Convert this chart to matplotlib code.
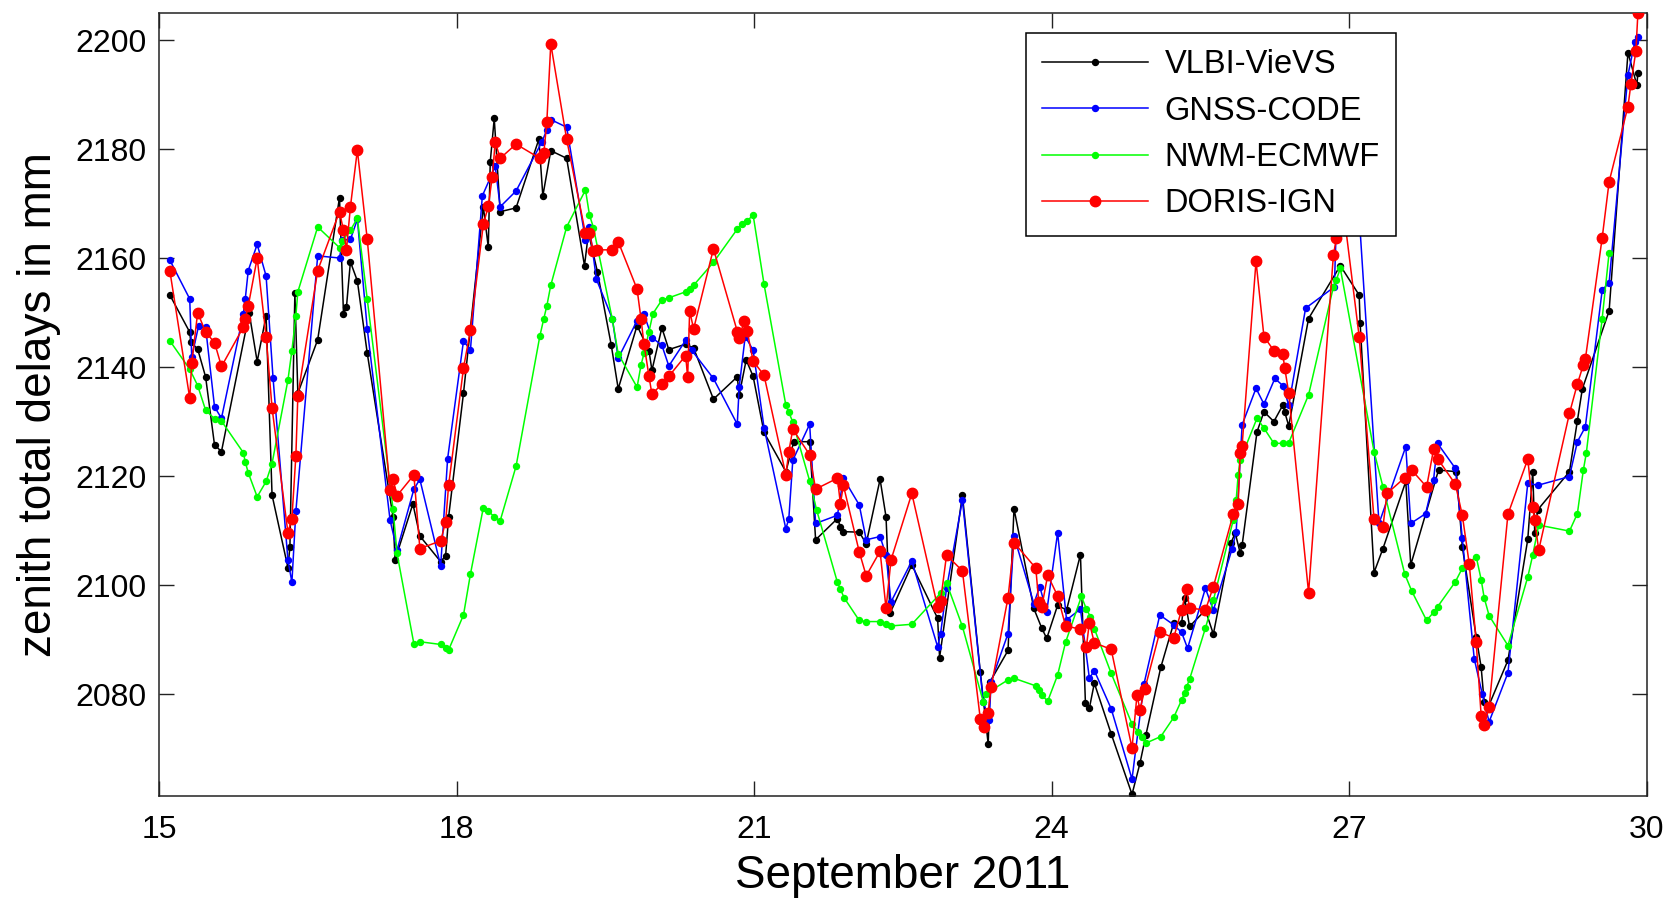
import matplotlib
matplotlib.use("Agg")
import matplotlib.pyplot as plt

plt.rcParams['font.family'] = ['Liberation Sans', 'DejaVu Sans']

# ---------------- data (day of September 2011, ZTD in mm) ----------------
vlbi_t = [15.11, 15.31, 15.32, 15.39, 15.47, 15.56, 15.63, 15.91, 15.99, 16.08,
          16.14, 16.30, 16.32, 16.37, 16.40, 16.60, 16.82, 16.86, 16.89, 16.93,
          17.00, 17.10, 17.36, 17.38, 17.56, 17.63, 17.84, 17.89, 17.92, 18.07,
          18.27, 18.32, 18.34, 18.38, 18.44, 18.60, 18.83, 18.87, 18.95, 19.11,
          19.29, 19.33, 19.42, 19.56, 19.63, 19.82, 19.94, 19.97, 20.07, 20.14,
          20.31, 20.39, 20.59, 20.83, 20.85, 20.92, 20.99, 21.10, 21.32, 21.40,
          21.56, 21.62, 21.84, 21.87, 21.90, 22.06, 22.13, 22.27, 22.33, 22.37,
          22.59, 22.85, 22.87, 23.10, 23.28, 23.36, 23.38, 23.56, 23.62, 23.82,
          23.90, 23.95, 24.06, 24.15, 24.29, 24.34, 24.38, 24.43, 24.60, 24.81,
          24.89, 24.95, 25.10, 25.23, 25.31, 25.34, 25.39, 25.55, 25.63, 25.81,
          25.85, 25.90, 25.92, 26.07, 26.14, 26.24, 26.33, 26.35, 26.39, 26.59,
          26.91, 27.10, 27.11, 27.25, 27.34, 27.57, 27.62, 27.90, 28.08, 28.14,
          28.28, 28.33, 28.36, 28.41, 28.60, 28.80, 28.85, 28.87, 28.90, 29.22,
          29.30, 29.35, 29.62, 29.81, 29.90, 29.91]
vlbi_v = [2153.2, 2146.4, 2144.6, 2143.3, 2138.2, 2125.7, 2124.5, 2149.9, 2141.0, 2149.4,
          2116.5, 2103.2, 2107.0, 2153.5, 2135.2, 2145.0, 2171.1, 2149.8, 2151.0, 2159.3,
          2155.8, 2142.5, 2112.5, 2104.6, 2114.9, 2109.0, 2104.3, 2105.4, 2112.5, 2135.2,
          2169.4, 2162.0, 2177.7, 2185.6, 2168.5, 2169.2, 2181.8, 2171.4, 2179.7, 2178.3,
          2158.6, 2164.6, 2157.5, 2144.0, 2136.0, 2147.6, 2143.0, 2139.4, 2147.2, 2143.2,
          2144.2, 2143.5, 2134.1, 2138.2, 2134.9, 2141.3, 2138.3, 2128.0, 2120.8, 2126.3,
          2126.3, 2108.3, 2112.2, 2110.7, 2109.8, 2109.7, 2107.6, 2119.4, 2112.5, 2094.8,
          2103.7, 2093.9, 2086.7, 2116.5, 2084.1, 2070.8, 2082.3, 2088.0, 2114.0, 2095.7,
          2092.1, 2090.2, 2096.3, 2095.4, 2105.6, 2078.4, 2077.4, 2082.0, 2072.7, 2061.6,
          2067.3, 2072.5, 2084.9, 2093.0, 2093.0, 2097.7, 2092.4, 2095.4, 2091.0, 2107.8,
          2109.6, 2105.9, 2107.3, 2128.1, 2131.8, 2130.0, 2133.0, 2131.7, 2129.2, 2148.9,
          2158.6, 2153.2, 2148.0, 2102.3, 2106.7, 2119.0, 2103.7, 2121.1, 2120.8, 2107.0,
          2090.5, 2084.9, 2078.6, 2078.0, 2086.2, 2108.4, 2120.8, 2109.6, 2113.8, 2120.8,
          2130.1, 2136.0, 2150.3, 2197.7, 2191.7, 2194.0]

gnss_t = [15.11, 15.31, 15.33, 15.40, 15.47, 15.56, 15.63, 15.85, 15.87, 15.90,
          15.99, 16.08, 16.15, 16.30, 16.34, 16.38, 16.60, 16.82, 16.85, 16.93,
          17.00, 17.10, 17.33, 17.40, 17.57, 17.63, 17.84, 17.91, 18.07, 18.14,
          18.26, 18.39, 18.44, 18.60, 18.86, 18.91, 18.95, 19.11, 19.30, 19.34,
          19.41, 19.57, 19.63, 19.82, 19.89, 19.97, 20.07, 20.14, 20.31, 20.37,
          20.59, 20.83, 20.85, 20.91, 20.99, 21.10, 21.32, 21.35, 21.39, 21.56,
          21.62, 21.84, 21.90, 22.06, 22.13, 22.27, 22.33, 22.38, 22.59, 22.85,
          22.88, 22.94, 23.10, 23.31, 23.37, 23.39, 23.56, 23.62, 23.82, 23.88,
          23.95, 24.06, 24.15, 24.29, 24.38, 24.43, 24.60, 24.81, 24.93, 25.09,
          25.23, 25.31, 25.37, 25.55, 25.63, 25.82, 25.86, 25.92, 26.06, 26.14,
          26.25, 26.33, 26.39, 26.56, 26.85, 26.88, 27.11, 27.30, 27.57, 27.62,
          27.77, 27.85, 27.89, 28.07, 28.14, 28.26, 28.34, 28.41, 28.60, 28.80,
          28.90, 29.22, 29.30, 29.38, 29.55, 29.62, 29.81, 29.88, 29.91]
gnss_v = [2159.6, 2152.5, 2141.8, 2147.6, 2147.3, 2132.7, 2130.6, 2149.7, 2152.5, 2157.7,
          2162.5, 2156.7, 2138.0, 2104.6, 2100.5, 2113.5, 2160.4, 2160.0, 2163.3, 2163.4,
          2167.1, 2147.0, 2111.9, 2106.4, 2117.6, 2119.4, 2103.5, 2123.2, 2144.8, 2143.1,
          2171.4, 2176.8, 2169.4, 2172.3, 2181.3, 2183.5, 2185.4, 2184.0, 2163.3, 2165.7,
          2156.1, 2148.9, 2141.6, 2148.5, 2149.7, 2145.4, 2144.0, 2140.2, 2144.9, 2143.1,
          2137.9, 2129.5, 2136.4, 2145.6, 2143.1, 2128.9, 2110.3, 2112.2, 2122.9, 2129.5,
          2111.3, 2112.8, 2119.6, 2114.7, 2108.3, 2108.9, 2105.5, 2096.9, 2104.4, 2088.7,
          2091.1, 2099.4, 2115.6, 2078.6, 2075.3, 2082.3, 2091.1, 2109.0, 2096.6, 2099.7,
          2095.1, 2109.6, 2093.6, 2095.6, 2082.9, 2084.3, 2077.3, 2064.4, 2081.8, 2094.5,
          2092.7, 2091.3, 2088.4, 2099.4, 2095.4, 2106.7, 2109.8, 2129.4, 2136.1, 2133.2,
          2137.9, 2136.6, 2133.0, 2150.8, 2154.7, 2172.0, 2165.0, 2111.3, 2125.4, 2111.3,
          2113.1, 2119.3, 2126.0, 2121.4, 2108.6, 2086.5, 2080.1, 2074.9, 2083.9, 2118.7,
          2118.3, 2119.9, 2126.3, 2129.0, 2154.1, 2155.5, 2193.6, 2199.7, 2200.6]

nwm_t = [15.11, 15.31, 15.39, 15.47, 15.56, 15.63, 15.85, 15.87, 15.90, 15.99,
         16.08, 16.14, 16.30, 16.34, 16.38, 16.40, 16.60, 16.82, 16.85, 16.93,
         17.00, 17.10, 17.36, 17.40, 17.57, 17.63, 17.84, 17.89, 17.92, 18.07,
         18.14, 18.27, 18.32, 18.38, 18.44, 18.60, 18.84, 18.88, 18.91, 18.95,
         19.11, 19.30, 19.34, 19.38, 19.57, 19.63, 19.82, 19.86, 19.89, 19.94,
         19.98, 20.07, 20.14, 20.31, 20.35, 20.39, 20.59, 20.83, 20.88, 20.93,
         20.99, 21.10, 21.32, 21.35, 21.39, 21.56, 21.63, 21.84, 21.87, 21.91,
         22.06, 22.13, 22.27, 22.33, 22.38, 22.59, 22.88, 22.94, 23.10, 23.31,
         23.34, 23.56, 23.62, 23.84, 23.87, 23.90, 23.96, 24.06, 24.14, 24.30,
         24.35, 24.39, 24.43, 24.60, 24.81, 24.87, 24.91, 24.95, 25.10, 25.23,
         25.31, 25.34, 25.36, 25.39, 25.55, 25.63, 25.83, 25.86, 25.88, 25.90,
         26.07, 26.14, 26.24, 26.33, 26.39, 26.59, 26.84, 26.87, 26.91, 27.25,
         27.34, 27.56, 27.63, 27.78, 27.85, 27.89, 28.07, 28.14, 28.28, 28.33,
         28.36, 28.41, 28.60, 28.80, 28.85, 28.91, 29.22, 29.30, 29.36, 29.39,
         29.55, 29.62]
nwm_v = [2144.8, 2139.6, 2136.6, 2132.1, 2130.5, 2130.1, 2124.3, 2122.6, 2120.6, 2116.2,
         2119.0, 2122.3, 2137.6, 2143.0, 2149.4, 2153.8, 2165.7, 2161.9, 2163.2, 2165.1,
         2167.3, 2152.4, 2113.9, 2105.8, 2089.2, 2089.6, 2089.1, 2088.4, 2088.1, 2094.5,
         2102.0, 2114.2, 2113.6, 2112.5, 2111.8, 2121.8, 2145.7, 2148.9, 2151.2, 2155.0,
         2165.7, 2172.5, 2167.9, 2165.6, 2148.8, 2142.4, 2136.3, 2140.4, 2142.5, 2146.5,
         2149.8, 2152.3, 2152.7, 2153.8, 2154.3, 2155.0, 2159.2, 2165.3, 2166.2, 2166.8,
         2167.9, 2155.2, 2133.0, 2131.7, 2129.9, 2119.1, 2113.8, 2100.5, 2099.2, 2097.6,
         2093.5, 2093.3, 2093.3, 2092.8, 2092.5, 2092.8, 2098.5, 2100.4, 2092.4, 2078.6,
         2080.1, 2082.6, 2082.9, 2081.5, 2080.8, 2079.8, 2078.7, 2083.5, 2089.5, 2097.9,
         2095.6, 2094.2, 2092.0, 2083.8, 2074.5, 2073.1, 2072.2, 2071.0, 2072.2, 2075.7,
         2078.9, 2080.2, 2081.3, 2082.7, 2092.1, 2097.2, 2111.9, 2115.6, 2120.2, 2122.9,
         2130.6, 2128.8, 2126.0, 2126.0, 2126.1, 2134.9, 2154.7, 2156.0, 2158.1, 2124.5,
         2118.0, 2102.0, 2098.9, 2093.5, 2095.0, 2096.0, 2100.6, 2103.1, 2105.2, 2101.0,
         2097.7, 2094.4, 2088.9, 2101.5, 2105.5, 2111.0, 2109.9, 2113.1, 2121.1, 2124.2,
         2148.9, 2161.0]

doris_t = [15.11, 15.31, 15.33, 15.39, 15.47, 15.56, 15.63, 15.85, 15.87, 15.90,
           15.99, 16.08, 16.14, 16.30, 16.34, 16.38, 16.40, 16.60, 16.82, 16.86,
           16.89, 16.93, 17.00, 17.10, 17.33, 17.36, 17.40, 17.57, 17.63, 17.84,
           17.89, 17.92, 18.07, 18.14, 18.27, 18.32, 18.36, 18.39, 18.44, 18.60,
           18.84, 18.88, 18.91, 18.95, 19.11, 19.30, 19.34, 19.38, 19.42, 19.57,
           19.63, 19.82, 19.86, 19.89, 19.94, 19.97, 20.07, 20.14, 20.31, 20.33,
           20.35, 20.39, 20.59, 20.83, 20.85, 20.90, 20.93, 20.99, 21.10, 21.32,
           21.35, 21.39, 21.56, 21.62, 21.84, 21.87, 21.90, 22.06, 22.13, 22.27,
           22.33, 22.38, 22.59, 22.85, 22.88, 22.94, 23.10, 23.28, 23.32, 23.36,
           23.39, 23.56, 23.62, 23.84, 23.87, 23.90, 23.96, 24.06, 24.14, 24.29,
           24.35, 24.38, 24.43, 24.60, 24.81, 24.86, 24.89, 24.94, 25.09, 25.23,
           25.31, 25.36, 25.39, 25.55, 25.63, 25.83, 25.88, 25.90, 25.92, 26.06,
           26.14, 26.24, 26.33, 26.35, 26.39, 26.59, 26.84, 26.87, 26.92, 27.10,
           27.25, 27.34, 27.38, 27.56, 27.63, 27.78, 27.85, 27.89, 28.07, 28.14,
           28.21, 28.28, 28.33, 28.36, 28.41, 28.60, 28.80, 28.85, 28.87, 28.91,
           29.22, 29.30, 29.36, 29.38, 29.55, 29.62, 29.81, 29.84, 29.89, 29.91]
doris_v = [2157.6, 2134.3, 2140.7, 2150.0, 2146.4, 2144.5, 2140.1, 2147.3, 2148.8, 2151.2,
           2160.0, 2145.6, 2132.5, 2109.6, 2112.2, 2123.7, 2134.7, 2157.7, 2168.5, 2165.1,
           2161.5, 2169.4, 2179.8, 2163.4, 2117.4, 2119.4, 2116.4, 2120.2, 2106.7, 2108.1,
           2111.6, 2118.3, 2139.8, 2146.8, 2166.2, 2169.5, 2174.9, 2181.3, 2178.3, 2180.9,
           2178.3, 2179.3, 2184.9, 2199.3, 2181.8, 2164.5, 2164.5, 2161.2, 2161.5, 2161.5,
           2163.0, 2154.3, 2148.8, 2144.2, 2138.3, 2135.0, 2136.9, 2138.3, 2142.1, 2138.1,
           2150.3, 2147.0, 2161.7, 2146.5, 2145.3, 2148.5, 2146.6, 2141.1, 2138.5, 2120.2,
           2124.5, 2128.6, 2123.9, 2117.6, 2119.6, 2114.9, 2118.3, 2106.1, 2101.7, 2106.2,
           2095.7, 2104.6, 2116.8, 2096.0, 2097.1, 2105.5, 2102.6, 2075.5, 2074.0, 2076.6,
           2081.3, 2097.7, 2107.8, 2103.1, 2096.8, 2096.0, 2101.8, 2098.0, 2092.5, 2091.9,
           2088.7, 2093.1, 2089.4, 2088.2, 2070.1, 2079.8, 2077.1, 2081.0, 2091.4, 2090.3,
           2095.5, 2099.2, 2095.8, 2095.4, 2099.7, 2113.0, 2114.8, 2124.3, 2125.6, 2159.4,
           2145.6, 2143.0, 2142.3, 2139.8, 2135.2, 2098.6, 2160.5, 2163.6, 2172.0, 2145.6,
           2112.1, 2110.7, 2116.8, 2119.7, 2121.1, 2118.0, 2124.9, 2123.2, 2118.5, 2112.8,
           2103.9, 2089.5, 2076.0, 2074.3, 2077.6, 2113.0, 2123.1, 2114.4, 2111.9, 2106.4,
           2131.5, 2136.9, 2140.4, 2141.4, 2163.7, 2174.0, 2187.8, 2192.0, 2198.0, 2204.9]

series_names = ['VLBI-VieVS', 'GNSS-CODE', 'NWM-ECMWF', 'DORIS-IGN']
x_ticks = [15, 18, 21, 24, 27, 30]
y_ticks = [2080, 2100, 2120, 2140, 2160, 2180, 2200]

# ---------------- figure ----------------
fig = plt.figure(figsize=(16.77, 8.99), dpi=100)
ax = fig.add_axes([0.0948, 0.1146, 0.8872, 0.8706])

lw = 1.1
ax.plot(vlbi_t, vlbi_v, '-', color='black', lw=lw, marker='o', ms=4.3,
        label=series_names[0], zorder=2)
ax.plot(gnss_t, gnss_v, '-', color='#0000FF', lw=lw, marker='o', ms=4.3,
        label=series_names[1], zorder=3)
ax.plot(nwm_t, nwm_v, '-', color='#00FF00', lw=lw, marker='o', ms=4.3,
        label=series_names[2], zorder=4)
ax.plot(doris_t, doris_v, '-', color='#FF0000', lw=lw, marker='o', ms=7.5,
        label=series_names[3], zorder=5)

ax.set_xlim(15, 30)
ax.set_ylim(2061.3, 2204.9)
ax.set_xticks(x_ticks)
ax.set_xticklabels([str(t) for t in x_ticks])
ax.set_yticks(y_ticks)
ax.tick_params(axis='both', which='both', direction='in', length=11, width=1.0,
               top=True, right=True, labelsize=23, color='#222222')
ax.tick_params(axis='x', pad=14)
ax.tick_params(axis='y', pad=9)
for s in ax.spines.values():
    s.set_linewidth(1.1)
    s.set_color('#222222')

ax.set_xlabel('September 2011', fontsize=33, labelpad=6)
ax.set_ylabel('zenith total delays in mm', fontsize=33, labelpad=10)

leg = ax.legend(loc='upper left', bbox_to_anchor=(0.5828, 0.9748),
                borderaxespad=0, fontsize=23.5, frameon=True, fancybox=False,
                framealpha=1, edgecolor='black', handlelength=3.25,
                handletextpad=0.5, labelspacing=0.47, borderpad=0.5,
                numpoints=1)
leg.get_frame().set_linewidth(1.1)
leg.set_zorder(10)

fig.savefig('out.png', dpi=100)
